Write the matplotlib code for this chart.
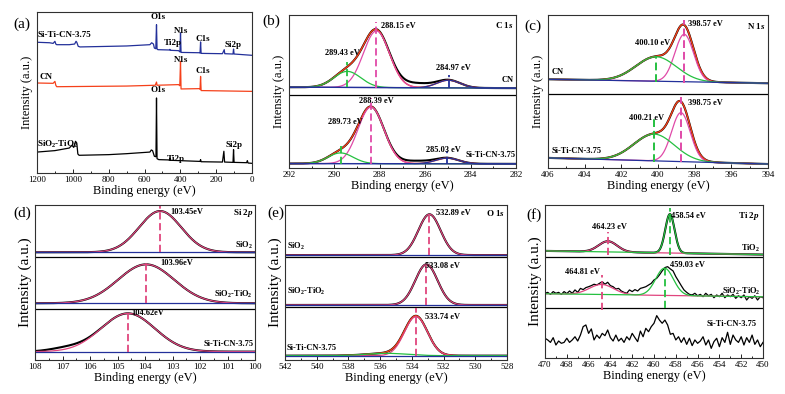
import numpy as np
import matplotlib.pyplot as plt
from matplotlib.ticker import MultipleLocator

# --- (a) survey spectra, (binding energy, intensity) ---
a_blue_e = [1200, 1130, 1110, 1100, 1095, 1090, 1020, 990, 982, 978, 970, 960, 870, 700, 570, 560, 550, 545, 537, 533,
            530, 525, 460, 458, 455, 410, 402, 399, 396, 295, 290, 287, 284, 165, 155, 152, 106, 103, 100, 0]
a_blue_i = [81.2, 80.9, 80.5, 81.8, 80.1, 79.7, 79.7, 80.1, 81.8, 81.2, 78.7, 78.3, 78.5, 78.9, 79.7, 80.9, 80.1, 77.6, 77.2, 92.1,
            77.0, 76.6, 76.4, 76.8, 76.2, 76.0, 75.2, 87.0, 74.9, 74.7, 74.5, 81.4, 74.3, 74.1, 76.6, 74.1, 73.9, 77.0, 73.9, 73.1]
a_red_e = [1200, 1110, 1100, 1095, 1090, 700, 540, 533, 530, 410, 403, 399, 396, 295, 290, 287, 284, 0]
a_red_i = [55.9, 55.7, 56.9, 54.5, 53.6, 54.0, 54.5, 56.5, 54.5, 54.9, 54.2, 69.4, 52.2, 52.4, 52.0, 60.0, 51.2, 50.7]
a_black_e = [1200, 1100, 1020, 1005, 995, 985, 978, 972, 965, 800, 700, 570, 562, 555, 545, 536, 533, 530, 520, 460,
             458, 455, 290, 287, 284, 165, 157, 153, 106, 103, 100, 30, 26, 22, 0]
a_black_i = [13.0, 13.9, 15.5, 17.2, 15.9, 19.7, 18.6, 11.8, 11.0, 11.4, 12.0, 13.0, 14.3, 13.9, 10.4, 10.1, 46.6, 8.9, 8.3, 8.1,
             9.3, 7.9, 7.2, 8.3, 7.0, 6.8, 13.5, 6.8, 6.6, 14.5, 6.6, 6.4, 7.7, 6.2, 6.0]

# --- (b) C 1s fitted components: centre, height, fwhm ---
b_cn_base = (52.8, 52.2)
b_cn_pos = [288.15, 289.43, 284.97]
b_cn_h = [37.0, 10.5, 5.0]
b_cn_w = [1.35, 1.4, 1.2]
b_cn_extra = [(286.4, 2.8, 1.6)]
b_si_base = (2.9, 2.7)
b_si_pos = [288.39, 289.73, 285.03]
b_si_h = [37.0, 7.0, 3.7]
b_si_w = [1.35, 1.3, 1.2]
b_si_extra = [(286.4, 1.8, 1.6)]

# --- (c) N 1s ---
c_cn_base = (58.0, 55.4)
c_cn_pos = [398.57, 400.10]
c_cn_h = [31.0, 16.0]
c_cn_w = [1.2, 2.6]
c_si_base = (6.6, 2.6)
c_si_pos = [398.75, 400.21]
c_si_h = [32.0, 17.5]
c_si_w = [1.2, 2.6]

# --- (d) Si 2p ---
d_names = ['SiO$_2$', 'SiO$_2$-TiO$_2$', 'Si-Ti-CN-3.75']
d_base = [69.5, 36.6, 5.4]
d_pos = [103.45, 103.96, 104.62]
d_h = [26.6, 25.1, 24.7]
d_w = [1.8, 2.4, 2.3]
d_extra = [[], [], [(106.9, 1.8, 1.4)]]

# --- (e) O 1s ---
e_names = ['SiO$_2$', 'SiO$_2$-TiO$_2$', 'Si-Ti-CN-3.75']
e_base = [67.7, 35.5, 2.8]
e_pos = [532.89, 533.08, 533.74]
e_h = [26.3, 26.2, 25.2]
e_w = [1.65, 1.65, 1.7]
e_green = (535.6, 1.5, 3.0)

# --- (f) Ti 2p ---
f_tio2_base = (70.0, 67.6)
f_tio2_pos = [464.23, 458.54]
f_tio2_h = [7.0, 25.4]
f_tio2_w = [2.0, 1.0]
f_mid_base = (42.0, 40.0)
f_mid_pos = [464.81, 459.03]
f_mid_h = [6.6, 17.8]
f_mid_w = [2.6, 1.9]
# raw counts, 470 -> 450 eV every 0.25 eV
f_mid_raw = [42.3, 42.9, 41.6, 43.4, 42.3, 42.9, 41.6, 43.4, 42.1, 43.8,
             42.3, 44.5, 42.9, 45.5, 44.7, 46.0, 46.6, 47.3, 48.2, 47.7,
             48.8, 49.9, 48.2, 49.5, 47.3, 46.6, 45.1, 45.5, 43.8, 42.9,
             42.3, 44.5, 43.4, 44.7, 43.8, 45.5, 46.0, 46.6, 47.7, 48.8,
             51.0, 52.1, 54.3, 56.9, 59.1, 59.7, 58.2, 56.9, 53.2, 50.3,
             47.3, 44.5, 42.9, 41.6, 41.2, 42.3, 40.7, 41.6, 40.1, 42.3,
             40.7, 41.6, 39.4, 41.2, 40.1, 42.3, 39.4, 41.2, 40.1, 41.6,
             39.0, 40.7, 39.4, 41.2, 37.9, 40.1, 39.0, 40.7, 37.9, 40.1,
             39.4]
f_cn_raw = [12.9, 11.8, 10.2, 13.3, 8.5, 11.1, 9.6, 10.2, 12.9, 10.2,
            11.8, 13.9, 11.1, 15.0, 20.5, 21.6, 16.1, 19.0, 11.8, 15.0,
            12.9, 16.1, 14.6, 18.3, 13.3, 11.1, 15.0, 11.1, 12.9, 10.2,
            13.9, 11.8, 16.1, 13.3, 10.7, 17.6, 13.9, 19.4, 17.2, 20.5,
            22.7, 27.7, 24.8, 22.7, 24.8, 21.6, 15.5, 16.1, 11.8, 13.9,
            10.2, 13.3, 8.9, 12.9, 8.1, 11.8, 9.6, 11.1, 13.9, 8.5,
            11.8, 6.3, 10.7, 12.9, 7.4, 13.3, 10.2, 16.8, 8.9, 15.0,
            11.8, 10.2, 13.9, 8.5, 13.3, 10.2, 15.0, 8.9, 11.8, 7.4,
            10.2]

BLUE = '#23309a'
RED = '#f5401a'
PINK = '#e04aa8'
ROSE = '#e0457e'
GREEN = '#25c040'

plt.rcParams['font.family'] = 'Liberation Serif'
plt.rcParams['mathtext.fontset'] = 'custom'
plt.rcParams['mathtext.rm'] = 'Liberation Serif'
plt.rcParams['mathtext.bf'] = 'Liberation Serif:bold'
plt.rcParams['mathtext.it'] = 'Liberation Serif:italic:bold'
plt.rcParams['mathtext.default'] = 'bf'

W, H = 785, 394
fig = plt.figure(figsize=(W / 100, H / 100), dpi=100)


def add_ax(x0, y0, x1, y1):
    return fig.add_axes([x0 / W, 1 - y1 / H, (x1 - x0) / W, (y1 - y0) / H])


def style(ax, xlim, major, ysize, ypad):
    ax.set_xlim(xlim)
    ax.set_ylim(0, 100)
    ax.set_yticks([])
    ax.xaxis.set_major_locator(MultipleLocator(major))
    ax.xaxis.set_minor_locator(MultipleLocator(major / 2))
    ax.tick_params(axis='x', which='both', direction='in', labelsize=6.5, pad=2, width=0.6)
    ax.tick_params(axis='x', which='major', length=3)
    ax.tick_params(axis='x', which='minor', length=1.6)
    for s in ax.spines.values():
        s.set_linewidth(0.8)
        s.set_color('#303030')
    ax.set_xlabel('Binding energy (eV)', fontsize=9, labelpad=1)
    ax.set_ylabel('Intensity (a.u.)', fontsize=ysize, labelpad=ypad)


def gauss(x, c, h, w):
    return h * np.exp(-4 * np.log(2) * ((x - c) / w) ** 2)


def line_base(x, ends):
    return ends[0] + (ends[1] - ends[0]) * (x - x[0]) / (x[-1] - x[0])


def draw_fit(ax, x, base_ends, pos, h, w, colors, env_color=None, extra=(), raw=True):
    base = line_base(x, base_ends)
    comps = [gauss(x, p, hh, ww) for p, hh, ww in zip(pos, h, w)]
    env = base + np.sum(comps, axis=0)
    data = env + sum((gauss(x, *e) for e in extra), np.zeros_like(x))
    if raw:
        ax.plot(x, data, color='black', lw=1.5)
    if env_color:
        ax.plot(x, env, color=env_color, lw=1.0)
    for comp, col in zip(comps, colors):
        ax.plot(x, base + comp, color=col, lw=0.9)
    return base


def lab(ax, x, y, s, ha='left', size=6):
    ax.text(x, y, s, ha=ha, va='center', fontsize=size, fontweight='bold')


dash = (0, (4, 2))

# (a) survey
ax = add_ax(37, 12, 252, 173)
style(ax, (1200, 0), 200, 9, 3)
ax.plot(a_blue_e, a_blue_i, color=BLUE, lw=0.9)
ax.plot(a_red_e, a_red_i, color=RED, lw=0.9)
ax.plot(a_black_e, a_black_i, color='black', lw=0.9)
for x, y, s, ha in [(1195, 86, 'Si-Ti-CN-3.75', 'left'), (523, 96.7, 'O1s', 'center'), (398, 88.4, 'N1s', 'center'),
                    (443, 80.7, 'Ti2p', 'center'), (272, 83.4, 'C1s', 'center'), (104, 79.3, 'Si2p', 'center'),
                    (1185, 59.4, 'CN', 'left'), (398, 70.0, 'N1s', 'center'), (272, 63.1, 'C1s', 'center'),
                    (523, 51.8, 'O1s', 'center'), (1198, 17.6, 'SiO$_2$-TiO$_2$', 'left'),
                    (426, 8.9, 'Ti2p', 'center'), (100, 17.6, 'Si2p', 'center')]:
    lab(ax, x, y, s, ha, 6.5)

# (b) C 1s
ax = add_ax(289, 15, 516, 168)
style(ax, (292, 282), 2, 9, 3)
x = np.linspace(292, 282, 600)
cols = [PINK, GREEN, BLUE]
draw_fit(ax, x, b_cn_base, b_cn_pos, b_cn_h, b_cn_w, cols, RED, b_cn_extra)
ax.plot(x, line_base(x, b_cn_base), color=BLUE, lw=0.9)
draw_fit(ax, x, b_si_base, b_si_pos, b_si_h, b_si_w, cols, RED, b_si_extra)
ax.plot(x, line_base(x, b_si_base), color=BLUE, lw=0.9)
ax.axhline(47.8, color='black', lw=0.9)
for p, lo, hi, c in zip(b_cn_pos + b_si_pos, [52.5, 52.8, 52.2, 2.8, 2.8, 2.8],
                        [95.7, 69.6, 60.9, 45.7, 14.1, 10.9], cols + cols):
    ax.vlines(p, lo, hi, colors=c, linestyles=dash, lw=1.3)
lab(ax, 287.93, 92.8, f'{b_cn_pos[0]:.2f} eV')
lab(ax, 290.43, 75.4, f'{b_cn_pos[1]:.2f} eV')
lab(ax, 285.53, 65.2, f'{b_cn_pos[2]:.2f} eV')
lab(ax, 288.93, 43.5, f'{b_si_pos[0]:.2f} eV')
lab(ax, 290.28, 29.8, f'{b_si_pos[1]:.2f} eV')
lab(ax, 285.97, 12.0, f'{b_si_pos[2]:.2f} eV')
lab(ax, 282.1, 93.5, 'C 1$\\mathit{s}$', 'right', 6.5)
lab(ax, 282.1, 57.2, 'CN', 'right')
lab(ax, 282.0, 8.7, 'Si-Ti-CN-3.75', 'right')

# (c) N 1s
ax = add_ax(548, 15, 768, 168)
style(ax, (406, 394), 2, 9, 3)
x = np.linspace(406, 394, 600)
cols = [PINK, GREEN]
draw_fit(ax, x, c_cn_base, c_cn_pos, c_cn_h, c_cn_w, cols, RED)
ax.plot(x, line_base(x, c_cn_base), color=BLUE, lw=0.9)
draw_fit(ax, x, c_si_base, c_si_pos, c_si_h, c_si_w, cols, RED)
ax.plot(x, line_base(x, c_si_base), color=BLUE, lw=0.9)
ax.axhline(48.6, color='black', lw=0.9)
for p, lo, hi, c in zip(c_cn_pos + c_si_pos, [55.8, 56.0, 3.6, 4.2], [96.7, 73.3, 46.4, 32.8], cols + cols):
    ax.vlines(p, lo, hi, colors=c, linestyles=dash, lw=1.4)
lab(ax, 398.36, 94.1, f'{c_cn_pos[0]:.2f} eV')
lab(ax, 401.27, 82.0, f'{c_cn_pos[1]:.2f} eV')
lab(ax, 398.36, 42.7, f'{c_si_pos[0]:.2f} eV')
lab(ax, 401.6, 32.8, f'{c_si_pos[1]:.2f} eV')
lab(ax, 394.13, 93.0, 'N 1$\\mathit{s}$', 'right', 6.5)
lab(ax, 405.8, 62.8, 'CN')
lab(ax, 405.8, 11.4, 'Si-Ti-CN-3.75')

# (d) Si 2p
ax = add_ax(35, 205, 255, 360)
style(ax, (108, 100), 1, 11, 2)
x = np.linspace(108, 100, 600)
for i in range(3):
    draw_fit(ax, x, (d_base[i], d_base[i]), [d_pos[i]], [d_h[i]], [d_w[i]], [ROSE], None, d_extra[i])
    ax.plot(x, line_base(x, (d_base[i], d_base[i])), color=BLUE, lw=0.9)
for y in (66.2, 32.9):
    ax.axhline(y, color='black', lw=0.9)
for p, lo, hi in zip(d_pos, d_base, [100, 62.4, 30.1]):
    ax.vlines(p, lo, hi, colors=ROSE, linestyles=dash, lw=1.3)
lab(ax, 103.09, 95.7, f'{d_pos[0]:.2f}eV')
lab(ax, 103.45, 62.4, f'{d_pos[1]:.2f}eV')
lab(ax, 104.48, 30.6, f'{d_pos[2]:.2f}eV')
lab(ax, 100.07, 94.6, 'Si 2$\\mathit{p}$', 'right', 6.5)
for y, s in zip([73.8, 42.6, 10.1], d_names):
    lab(ax, 100.07, y, s, 'right')

# (e) O 1s
ax = add_ax(285, 205, 507, 360)
style(ax, (542, 528), 2, 11, 2)
x = np.linspace(542, 528, 600)
for i in range(3):
    bb = (e_base[i], e_base[i])
    if i == 2:
        draw_fit(ax, x, bb, [e_pos[i], e_green[0]], [e_h[i], e_green[1]], [e_w[i], e_green[2]],
                 [ROSE, GREEN], RED)
    else:
        draw_fit(ax, x, bb, [e_pos[i]], [e_h[i]], [e_w[i]], [ROSE], None)
    ax.plot(x, line_base(x, bb), color=BLUE, lw=0.9)
for y in (66.7, 34.4):
    ax.axhline(y, color='black', lw=0.9)
for p, lo, hi in zip(e_pos, e_base, [94.6, 62.0, 33.8]):
    ax.vlines(p, lo, hi, colors=ROSE, linestyles=dash, lw=1.3)
lab(ax, 532.5, 94.6, f'{e_pos[0]:.2f} eV')
lab(ax, 533.2, 60.9, f'{e_pos[1]:.2f} eV')
lab(ax, 533.2, 28.0, f'{e_pos[2]:.2f} eV')
lab(ax, 528.15, 94.6, 'O 1$\\mathit{s}$', 'right', 6.5)
for y, s in zip([73.1, 44.1, 7.5], e_names):
    lab(ax, 541.9, y, s)

# (f) Ti 2p
ax = add_ax(545, 205, 763, 358)
style(ax, (470, 450), 2, 11, 2)
x = np.linspace(470, 450, 600)
cols = [ROSE, GREEN]
draw_fit(ax, x, f_tio2_base, f_tio2_pos, f_tio2_h, f_tio2_w, cols, None)
xr = np.linspace(470, 450, len(f_mid_raw))
ax.plot(xr, f_mid_raw, color='black', lw=0.9)
draw_fit(ax, x, f_mid_base, f_mid_pos, f_mid_h, f_mid_w, cols, None, raw=False)
ax.plot(np.linspace(470, 450, len(f_cn_raw)), f_cn_raw, color='black', lw=0.9)
for y in (66.3, 33.0):
    ax.axhline(y, color='black', lw=0.9)
for p, lo, hi, c in zip(f_tio2_pos + f_mid_pos, [67.4, 67.4, 31.5, 32.6], [82.6, 97.8, 54.3, 59.8], cols + cols):
    ax.vlines(p, lo, hi, colors=c, linestyles=dash, lw=1.3)
lab(ax, 458.4, 93.0, f'{f_tio2_pos[1]:.2f} eV')
lab(ax, 465.7, 85.4, f'{f_tio2_pos[0]:.2f} eV')
lab(ax, 458.5, 60.9, f'{f_mid_pos[1]:.2f} eV')
lab(ax, 468.2, 56.5, f'{f_mid_pos[0]:.2f} eV')
lab(ax, 450.3, 93.0, 'Ti 2$\\mathit{p}$', 'right', 6.5)
lab(ax, 450.3, 71.7, 'TiO$_2$', 'right')
lab(ax, 450.2, 43.5, 'SiO$_2$-TiO$_2$', 'right')
lab(ax, 450.6, 22.4, 'Si-Ti-CN-3.75', 'right')

for px, py, s in [(22, 24, '(a)'), (271, 21, '(b)'), (533, 26, '(c)'),
                  (22, 213, '(d)'), (276, 213, '(e)'), (534, 215, '(f)')]:
    fig.text(px / W, 1 - py / H, s, fontsize=11, ha='center', va='center')

fig.savefig('out.png', dpi=100)
